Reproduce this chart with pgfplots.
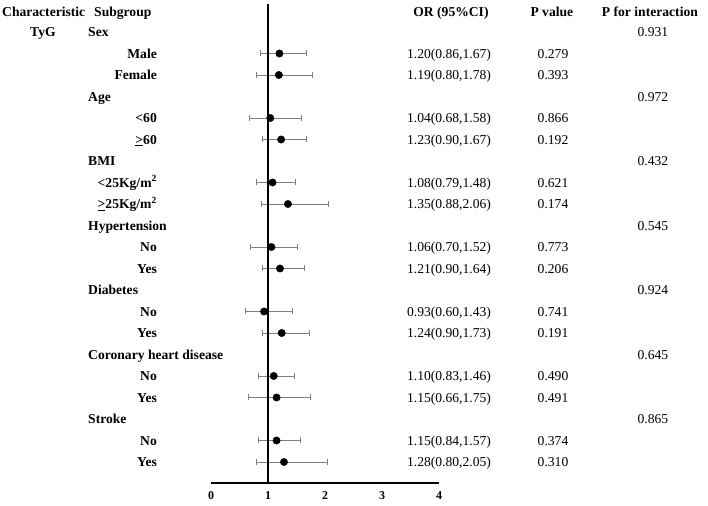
\documentclass[border=0pt]{standalone}
\usepackage{fontspec}
\setmainfont{Liberation Serif}
\usepackage{pgfplots}
\pgfplotsset{compat=1.18}
\usepackage{pgfplotstable}

% y = minus the row position in px, or / lo / hi from the table
\pgfplotstableread{
y or lo hi
-53.5 1.20 0.86 1.67
-75 1.19 0.80 1.78
-118 1.04 0.68 1.58
-139.5 1.23 0.90 1.67
-182.5 1.08 0.79 1.48
-204 1.35 0.88 2.06
-247 1.06 0.70 1.52
-268.5 1.21 0.90 1.64
-311.5 0.93 0.60 1.43
-333 1.24 0.90 1.73
-376 1.10 0.83 1.46
-397.5 1.15 0.66 1.75
-440.5 1.15 0.84 1.57
-462 1.28 0.80 2.05
}\forest

\tikzset{txt/.style={font=\fontsize{13.6}{15}\selectfont, inner sep=0pt, yshift=-4.7pt}}
\newcommand\grp[3]{%
  \node[txt, anchor=base west] at (axis cs:-2.158,#1) {\bfseries #2};
  \node[txt, anchor=base] at (axis cs:7.754,#1) {#3};}
\newcommand\sub[4]{%
  \node[txt, anchor=base east] at (axis cs:-0.947,#1) {\bfseries #2};
  \node[txt, anchor=base] at (axis cs:4.175,#1) {#3};
  \node[txt, anchor=base] at (axis cs:6.0,#1) {#4};}

\begin{document}
\begin{tikzpicture}
\begin{axis}[
    scale only axis,
    x=57pt, y=1pt,
    xmin=0, xmax=4, ymin=-483, ymax=-4,
    enlargelimits=false,
    axis x line=bottom, axis y line=none,
    x axis line style={-, line width=1.2pt},
    xtick={0,1,2,3,4},
    major tick length=0pt,
    /pgf/number format/assume math mode=true,
    every x tick label/.append style={font=\fontsize{12}{13}\selectfont\bfseries, yshift=-5pt},
    clip=false,
]
\addplot[draw=none, mark=none,
    error bars/.cd, x dir=both, x explicit,
    error bar style={black!50, line width=0.9pt},
    error mark options={rotate=90, mark size=3pt, black!50, line width=0.9pt}]
  table[x=or, y=y,
        x error plus expr=\thisrow{hi}-\thisrow{or},
        x error minus expr=\thisrow{or}-\thisrow{lo}] {\forest};
\addplot[only marks, mark=*, mark size=3.7pt, black] table[x=or, y=y] {\forest};

\draw[line width=1.4pt] (axis cs:1,-483) -- (axis cs:1,-4);

% header
\node[txt, anchor=base west] at (axis cs:-3.667,-12) {\bfseries Characteristic};
\node[txt, anchor=base west] at (axis cs:-2.053,-12) {\bfseries Subgroup};
\node[txt, anchor=base] at (axis cs:4.21,-12) {\bfseries OR (95\%CI)};
\node[txt, anchor=base] at (axis cs:5.98,-12) {\bfseries P value};
\node[txt, anchor=base] at (axis cs:7.70,-12) {\bfseries P for interaction};
\node[txt, anchor=base west] at (axis cs:-3.175,-32) {\bfseries TyG};

\grp{-32}{Sex}{0.931}
\sub{-53.5}{Male}{1.20(0.86,1.67)}{0.279}
\sub{-75}{Female}{1.19(0.80,1.78)}{0.393}
\grp{-96.5}{Age}{0.972}
\sub{-118}{<60}{1.04(0.68,1.58)}{0.866}
\sub{-139.5}{\underline{>}60}{1.23(0.90,1.67)}{0.192}
\grp{-161}{BMI}{0.432}
\sub{-182.5}{<25Kg/m\textsuperscript{2}}{1.08(0.79,1.48)}{0.621}
\sub{-204}{\underline{>}25Kg/m\textsuperscript{2}}{1.35(0.88,2.06)}{0.174}
\grp{-225.5}{Hypertension}{0.545}
\sub{-247}{No}{1.06(0.70,1.52)}{0.773}
\sub{-268.5}{Yes}{1.21(0.90,1.64)}{0.206}
\grp{-290}{Diabetes}{0.924}
\sub{-311.5}{No}{0.93(0.60,1.43)}{0.741}
\sub{-333}{Yes}{1.24(0.90,1.73)}{0.191}
\grp{-354.5}{Coronary heart disease}{0.645}
\sub{-376}{No}{1.10(0.83,1.46)}{0.490}
\sub{-397.5}{Yes}{1.15(0.66,1.75)}{0.491}
\grp{-419}{Stroke}{0.865}
\sub{-440.5}{No}{1.15(0.84,1.57)}{0.374}
\sub{-462}{Yes}{1.28(0.80,2.05)}{0.310}

\coordinate (bl) at (axis cs:-3.702,-506);
\coordinate (tr) at (axis cs:8.719,0);
\end{axis}
\pgfresetboundingbox
\path (bl) rectangle (tr);
\end{tikzpicture}
\end{document}
